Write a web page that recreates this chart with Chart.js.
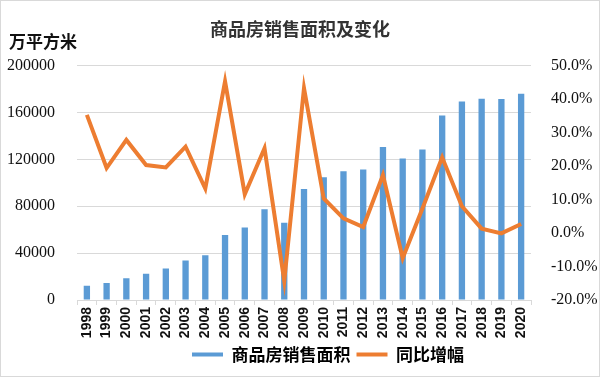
<!DOCTYPE html>
<html>
<head>
<meta charset="utf-8">
<script src="https://cdn.jsdelivr.net/npm/chart.js@4/dist/chart.umd.min.js"></script>
<style>
  body { margin: 0; background: #fff; }
  #wrap { width: 600px; height: 377px; }
</style>
</head>
<body>
<div id="wrap"><canvas id="salesChart" width="600" height="377"></canvas></div>
<script>
const years = ['1998','1999','2000','2001','2002','2003','2004','2005','2006','2007','2008','2009',
               '2010','2011','2012','2013','2014','2015','2016','2017','2018','2019','2020'];
// 万平方米
const salesArea = [12185, 14557, 18637, 22412, 26808, 33718, 38232, 55486, 61857, 77355, 65970, 94755,
                   104765, 109946, 111304, 130551, 120649, 128495, 157349, 169408, 171654, 171558, 176086];
// 同比增幅 (%)
const growth = [35.3, 19.4, 27.8, 20.3, 19.6, 25.8, 13.3, 45.3, 11.6, 25.3, -14.3, 43.3,
                10.3, 4.4, 1.8, 17.3, -7.5, 7.3, 22.6, 8.0, 1.3, -0.1, 2.7];

const serif = "'Liberation Serif', 'Noto Sans CJK SC', serif";
const cjk = "'Noto Sans CJK SC', sans-serif";

/* ===== extra text + border ===== */
const decor = {
    id: 'decor',
    afterLayout(chart) {
        // legend sits a bit right of centre in the original
        chart.legend.left += 28;
        chart.legend.right += 28;
    },
    afterDraw(chart) {
        const ctx = chart.ctx;
        ctx.save();
        ctx.fillStyle = '#111';
        ctx.font = "bold 17px " + cjk;
        ctx.textBaseline = 'middle';
        ctx.textAlign = 'left';
        ctx.fillText('万平方米', 9, 42);
        ctx.strokeStyle = '#d9d9d9';
        ctx.lineWidth = 1;
        ctx.strokeRect(0.5, 0.5, 599, 376);
        ctx.restore();
    }
};

new Chart(document.getElementById('salesChart'), {
    data: {
        labels: years,
        datasets: [
            {
                type: 'line',
                label: '同比增幅',
                data: growth,
                yAxisID: 'y1',
                borderColor: '#ED7D31',
                backgroundColor: '#ED7D31',
                borderWidth: 4,
                pointRadius: 0,
                tension: 0,
                order: 0
            },
            {
                type: 'bar',
                label: '商品房销售面积',
                data: salesArea,
                yAxisID: 'y',
                backgroundColor: '#5B9BD5',
                barPercentage: 0.32,
                categoryPercentage: 1,
                order: 1
            }
        ]
    },
    options: {
        responsive: false,
        animation: false,
        layout: { padding: { top: 8, bottom: 4 } },
        plugins: {
            title: {
                display: true,
                text: '商品房销售面积及变化',
                color: '#333',
                font: { family: cjk, size: 18, weight: 'bold' },
                padding: { top: 10, bottom: 26 }
            },
            legend: {
                position: 'bottom',
                reverse: true,
                labels: {
                    color: '#111',
                    font: { family: cjk, size: 17, weight: 'bold' },
                    boxWidth: 31,
                    boxHeight: 4,
                    padding: 6,
                    generateLabels(chart) {
                        return chart.data.datasets.map((ds, i) => ({
                            text: ds.label,
                            fillStyle: ds.type === 'bar' ? ds.backgroundColor : ds.borderColor,
                            strokeStyle: 'transparent',
                            lineWidth: 0,
                            datasetIndex: i
                        }));
                    }
                }
            },
            tooltip: { enabled: false }
        },
        scales: {
            x: {
                offset: true,
                afterFit(scale) { scale.height = 40; },
                grid: { display: true, drawOnChartArea: false, offset: true, color: '#d9d9d9', tickLength: 5 },
                border: { color: '#d9d9d9' },
                ticks: {
                    minRotation: 90,
                    maxRotation: 90,
                    autoSkip: false,
                    color: '#111',
                    padding: 2,
                    font: { family: "'Liberation Sans', sans-serif", size: 14, weight: 'bold' }
                }
            },
            y: {
                position: 'left',
                min: 0,
                max: 200000,
                afterFit(scale) { scale.width = 77; },
                grid: { color: '#d9d9d9', drawTicks: false },
                border: { display: false },
                ticks: {
                    stepSize: 40000,
                    padding: 22,
                    color: '#111',
                    font: { family: serif, size: 16 },
                    callback: v => String(v)
                }
            },
            y1: {
                position: 'right',
                min: -20,
                max: 50,
                afterFit(scale) { scale.width = 69; },
                grid: { display: false },
                border: { display: false },
                ticks: {
                    stepSize: 10,
                    padding: 12,
                    color: '#111',
                    font: { family: serif, size: 16 },
                    callback: v => v.toFixed(1) + '%'
                }
            }
        }
    },
    plugins: [decor]
});
</script>
</body>
</html>
